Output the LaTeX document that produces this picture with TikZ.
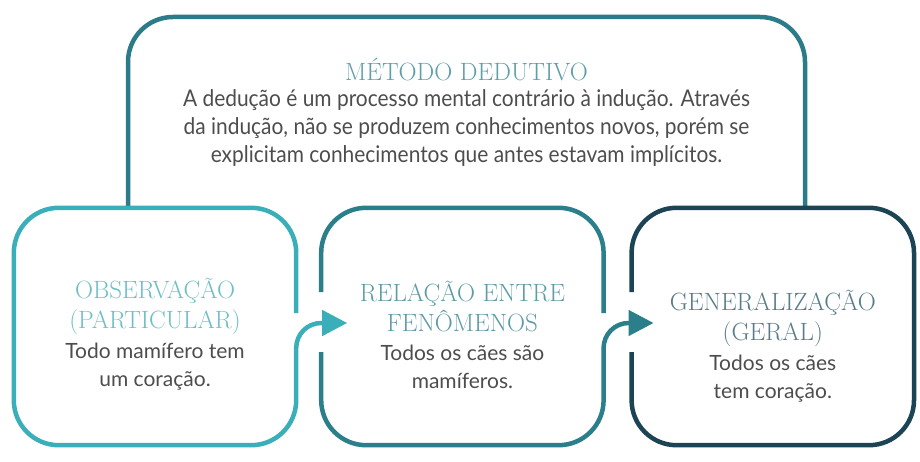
\documentclass[tikz,border=0pt]{standalone}
\usepackage{fontspec}
\newfontfamily\bodyfont{Lato}
\newfontfamily\condfont[FakeStretch=0.91]{Lato}
\usetikzlibrary{arrows.meta, positioning, calc}

\definecolor{obscol}{HTML}{3AAFB9}
\definecolor{relcol}{HTML}{2B7F8B}
\definecolor{gencol}{HTML}{1C4455}
\definecolor{dedcol}{HTML}{2B7C88}
\definecolor{obstitle}{HTML}{6DBFC5}
\definecolor{reltitle}{HTML}{5E9BA5}
\definecolor{gentitle}{HTML}{587C89}
\definecolor{dedtitle}{HTML}{5E9EA8}
\definecolor{bodygray}{HTML}{4D4D4D}

\begin{document}
\begin{tikzpicture}[
    x=1pt, y=1pt,
    stage/.style={minimum width=282pt, minimum height=237pt, inner sep=0pt},
    outline/.style={line width=4.5pt, rounded corners=45pt},
    title/.style={font=\fontsize{25}{30}\selectfont, align=center, inner sep=0pt},
    body/.style={font=\bodyfont\fontsize{21}{28}\selectfont, text=bodygray, align=center, inner sep=0pt},
    arrow/.style={-{Triangle[length=25pt, width=25pt]}}
]
\useasboundingbox (0,0) rectangle (920,461);
\node[stage] (obs) at (155,134.5) {};
\node[stage, right=25pt of obs] (rel) {};
\node[stage, right=28pt of rel] (gen) {};
\coordinate (topL) at (128,444);
\coordinate (topR) at (805,444);

% outer frame of the deductive method
\draw[outline, dedcol] (topL |- obs.north) -- (topL) -- (topR) -- ([yshift=-2pt]topR |- gen.north);

% stage boxes
\draw[outline, obscol] ([yshift=13.5pt]obs.east) -- (obs.north east) -- (obs.north west) -- (obs.south west) -- (obs.south east)
    [rounded corners=25pt] -- ([yshift=3.5pt]obs.east) [arrow] -- ([xshift=26pt, yshift=3.5pt]rel.west);
\draw[outline, relcol] ([yshift=34.5pt]rel.west) -- (rel.north west) -- (rel.north east) -- ([yshift=13.5pt]rel.east);
\draw[outline, relcol] ([yshift=-25.5pt]rel.west) -- (rel.south west) -- (rel.south east)
    [rounded corners=25pt] -- ([yshift=3.5pt]rel.east) [arrow] -- ([xshift=22pt, yshift=3.5pt]gen.west);
\draw[outline, gencol] ([yshift=34.5pt]gen.west) -- (gen.north west) -- (gen.north east) -- (gen.south east) -- (gen.south west) -- ([yshift=-25.5pt]gen.west);

% texts
\node[title, text=dedtitle] (dedT) at (466.5,391) {MÉTODO DEDUTIVO};
\node[body, font=\condfont\fontsize{23}{28}\selectfont] (dedB) at (466.5,333) {A dedução é um processo mental contrário à indução. Através\\da indução, não se produzem conhecimentos novos, porém se\\explicitam conhecimentos que antes estavam implícitos.};
\node[title, text=obstitle] (obsT) at ([yshift=20pt]obs.center) {OBSERVAÇÃO\\(PARTICULAR)};
\node[body] (obsB) at ([yshift=-40.5pt]obs.center) {Todo mamífero tem\\um coração.};
\node[title, text=reltitle] (relT) at ([yshift=20pt]rel.center) {RELAÇÃO ENTRE\\FENÔMENOS};
\node[body] (relB) at ([yshift=-40.5pt]rel.center) {Todos os cães são\\mamíferos.};
\node[title, text=gentitle] (genT) at ([yshift=8.5pt]gen.center) {GENERALIZAÇÃO\\(GERAL)};
\node[body] (genB) at ([yshift=-52.5pt]gen.center) {Todos os cães\\tem coração.};
\end{tikzpicture}
\end{document}
